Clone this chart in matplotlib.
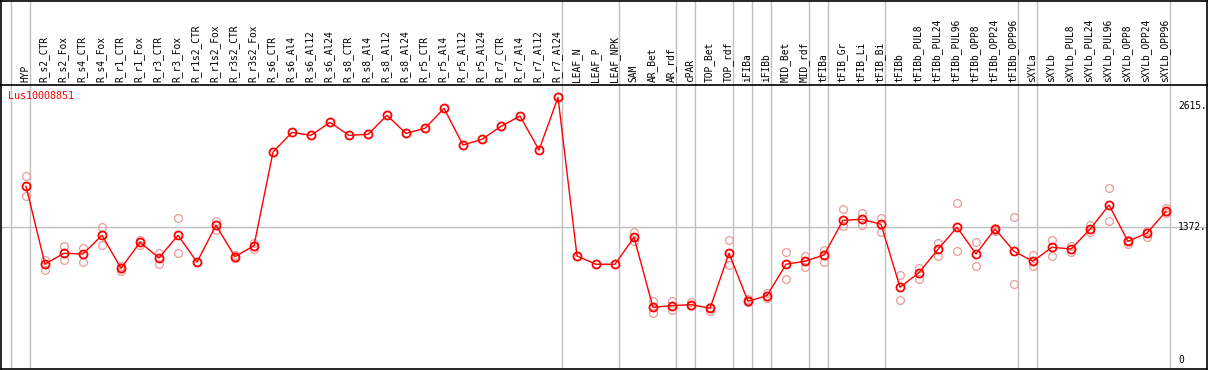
import matplotlib
matplotlib.use("Agg")
import matplotlib.pyplot as plt
import matplotlib.transforms as mtransforms

# sample names (x categories)
categories = [
    "HYP", "R_s2_CTR", "R_s2_Fox", "R_s4_CTR", "R_s4_Fox", "R_r1_CTR", "R_r1_Fox",
    "R_r3_CTR", "R_r3_Fox", "R_r1s2_CTR", "R_r1s2_Fox", "R_r3s2_CTR", "R_r3s2_Fox",
    "R_s6_CTR", "R_s6_Al4", "R_s6_Al12", "R_s6_Al24", "R_s8_CTR", "R_s8_Al4",
    "R_s8_Al12", "R_s8_Al24", "R_r5_CTR", "R_r5_Al4", "R_r5_Al12", "R_r5_Al24",
    "R_r7_CTR", "R_r7_Al4", "R_r7_Al12", "R_r7_Al24", "LEAF_N", "LEAF_P", "LEAF_NPK",
    "SAM", "AR_Bet", "AR_rdf", "cPAR", "TOP_Bet", "TOP_rdf", "iFIBa", "iFIBb",
    "MID_Bet", "MID_rdf", "tFIBa", "tFIB_Gr", "tFIB_Li", "tFIB_Bi", "tFIBb",
    "tFIBb_PUL8", "tFIBb_PUL24", "tFIBb_PUL96", "tFIBb_OPP8", "tFIBb_OPP24",
    "tFIBb_OPP96", "sXYLa", "sXYLb", "sXYLb_PUL8", "sXYLb_PUL24", "sXYLb_PUL96",
    "sXYLb_OPP8", "sXYLb_OPP24", "sXYLb_OPP96",
]

# mean expression per sample
means = [
    1789, 991, 1101, 1094, 1286, 947, 1214, 1053, 1286, 1011, 1388, 1066, 1179,
    2141, 2343, 2313, 2446, 2313, 2323, 2518, 2333, 2385, 2590, 2213, 2272,
    2405, 2511, 2162, 2703, 1073, 988, 988,
    1265, 546, 563, 573, 536, 1101, 608, 666, 988, 1019, 1083, 1440, 1450, 1399,
    752, 902, 1142, 1368, 1094, 1351, 1121,
    1019, 1163, 1145, 1347, 1597, 1224, 1309, 1532,
]

# individual replicates
replicates = [
    [1892, 1686], [1035, 929], [1176, 1035], [1155, 1015], [1371, 1189],
    [974, 922], [1241, 1189], [1101, 994], [1460, 1104], [1011], [1433, 1343],
    [1050, 1080], [1207, 1145],
    [], [], [], [], [], [], [], [], [], [], [], [], [], [], [], [], [], [], [],
    [1323, 1231], [611, 485], [611, 522], [597, 557], [553, 508], [1234, 981],
    [631, 597], [693, 639], [1118, 840], [1076, 960], [1138, 1008],
    [1553, 1378], [1512, 1392], [1467, 1317],
    [881, 621], [947, 837], [1204, 1076], [1614, 1128], [1214, 967],
    [1333, 1365], [1471, 783],
    [1087, 974], [1238, 1076], [1173, 1111], [1392, 1317], [1772, 1430],
    [1241, 1196], [1330, 1272], [1563, 1515],
]

gene = "Lus10008851"
y_ticks = [0, 1372, 2615]
y_tick_labels = ["0", "1372.", "2615."]
# groups end after these sample indices
group_ends = [0, 28, 31, 34, 35, 37, 38, 39, 41, 42, 45, 52, 53, 60]

W, H = 1209, 370
fig = plt.figure(figsize=(W / 100, H / 100), dpi=100)

x_left = (1 - 26) / 19
x_right = (1207 - 26) / 19

# main plot area (pixels 85..369)
ax = fig.add_axes([1 / W, 1 / H, 1206 / W, 284 / H])
# header with sample names (pixels 0..85)
hx = fig.add_axes([1 / W, 285 / H, 1206 / W, 84 / H], sharex=ax)

grey = "#c0c0c0"
mono = "DejaVu Sans Mono"

xs = list(range(len(categories)))

# replicate points
for i, reps in enumerate(replicates):
    if reps:
        ax.plot([i] * len(reps), reps, linestyle="none", marker="o",
                markersize=5.6, markerfacecolor="none",
                markeredgecolor="#eb9a9a", markeredgewidth=0.9, zorder=3)

ax.plot(xs, means, color="red", linewidth=1.0, zorder=4)
ax.plot(xs, means, linestyle="none", marker="o", markersize=5.8,
        markerfacecolor="none", markeredgecolor="red", markeredgewidth=1.3,
        zorder=5)

ax.set_xlim(x_left, x_right)
ax.set_ylim(-88, 2830)

# grid lines
ax.axhline(1372, color=grey, linewidth=1.0, zorder=1)
vlines = [-0.8] + [g + 0.23 for g in group_ends]
for v in vlines:
    ax.axvline(v, color=grey, linewidth=1.0, zorder=1)
    hx.axvline(v, color=grey, linewidth=1.0, zorder=1)

ax.set_xticks([])
ax.set_yticks([])
hx.set_yticks([])
hx.tick_params(axis="x", bottom=False, labelbottom=False)
for a in (ax, hx):
    for s in a.spines.values():
        s.set_color("black")
        s.set_linewidth(1.2)
ax.spines["top"].set_visible(False)

# sample labels
trans = mtransforms.blended_transform_factory(hx.transData, hx.transAxes)
for i, name in enumerate(categories):
    hx.text(i - 0.05, 0.03, name, rotation=90, ha="center", va="bottom",
            fontsize=6.9, family=mono, transform=trans)

# y value labels on the right
for v, lab in zip(y_ticks, y_tick_labels):
    ax.text(60.63, v, lab, ha="left", va="center", fontsize=6.9,
            family=mono, color="black", zorder=6)

ax.text(0.006, 0.96, gene, transform=ax.transAxes, ha="left", va="center",
        fontsize=7.2, family=mono, color="red")

fig.savefig("out.png", dpi=100)
